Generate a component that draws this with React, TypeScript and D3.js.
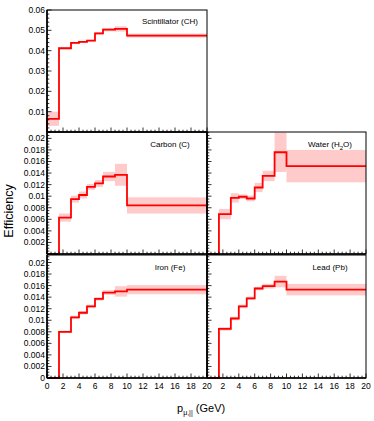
import React, { useEffect, useRef } from 'react';
import * as d3 from 'd3';

// bin edges in p (GeV)
const binEdges = [0, 1.5, 3, 4, 5, 6, 7, 8.5, 10, 20];

const chValues = [0.0065, 0.0412, 0.0438, 0.0443, 0.0449, 0.0485, 0.0503, 0.0507, 0.0474];
const chErrors = [0.0035, 0.0005, 0.0005, 0.0005, 0.0005, 0.0007, 0.0008, 0.0013, 0.001];

const carbonValues = [0, 0.0063, 0.0095, 0.0102, 0.0116, 0.0122, 0.0134, 0.0137, 0.0084];
const carbonErrors = [0, 0.0007, 0.0006, 0.0006, 0.0005, 0.0006, 0.0008, 0.0019, 0.0014];

const waterValues = [0, 0.0069, 0.0097, 0.0099, 0.0096, 0.0115, 0.0135, 0.0176, 0.0152];
const waterErrors = [0, 0.0009, 0.0008, 0.0004, 0.0005, 0.0008, 0.0009, 0.0034, 0.0028];

const ironValues = [0, 0.008, 0.0105, 0.0113, 0.0124, 0.0137, 0.0148, 0.015, 0.0153];
const ironErrors = [0, 0.0002, 0.0003, 0.0003, 0.0003, 0.0003, 0.0004, 0.0009, 0.0008];

const leadValues = [0, 0.0085, 0.0103, 0.0124, 0.0138, 0.0155, 0.0159, 0.0167, 0.0153];
const leadErrors = [0, 0.0003, 0.0003, 0.0003, 0.0003, 0.0003, 0.0004, 0.001, 0.001];

const xTickLabels = [0, 2, 4, 6, 8, 10, 12, 14, 16, 18, 20];
const chTickLabels = [0.01, 0.02, 0.03, 0.04, 0.05, 0.06];
const smallTickLabels = [0.002, 0.004, 0.006, 0.008, 0.01, 0.012, 0.014, 0.016, 0.018, 0.02];

const FONT = 'Liberation Sans, Arial, Helvetica, sans-serif';
const RED = '#ff0000';
const BAND = '#ffcaca';

const panels = [
  { name: 'Scintillator (CH)', values: chValues, errors: chErrors, x0: 47, x1: 207, y0: 10, y1: 132, yMax: 0.06, minor: 0.002, yLabels: chTickLabels, xLabels: null, showZero: false },
  { name: 'Carbon (C)', values: carbonValues, errors: carbonErrors, x0: 47, x1: 207, y0: 132, y1: 254, yMax: 0.0211, minor: 0.0005, yLabels: smallTickLabels, xLabels: null, showZero: false },
  { name: 'Water (H2O)', values: waterValues, errors: waterErrors, x0: 207, x1: 366, y0: 132, y1: 254, yMax: 0.0211, minor: 0.0005, yLabels: null, xLabels: null, showZero: false },
  { name: 'Iron (Fe)', values: ironValues, errors: ironErrors, x0: 47, x1: 207, y0: 255, y1: 378, yMax: 0.0213, minor: 0.0005, yLabels: smallTickLabels, xLabels: xTickLabels, showZero: true },
  { name: 'Lead (Pb)', values: leadValues, errors: leadErrors, x0: 207, x1: 366, y0: 255, y1: 378, yMax: 0.0213, minor: 0.0005, yLabels: null, xLabels: xTickLabels.slice(1), showZero: false },
];

const fmt = (v: number) => String(+v.toFixed(3));

const App = () => {
  const svgRef = useRef<SVGSVGElement>(null);

  useEffect(() => {
    const svg = d3.select(svgRef.current);
    svg.selectAll('*').remove();

    panels.forEach(p => {
      const x = d3.scaleLinear().domain([0, 20]).range([p.x0, p.x1]);
      const y = d3.scaleLinear().domain([0, p.yMax]).range([p.y1, p.y0]);
      const g = svg.append('g');

      // error bands
      g.selectAll('rect.band')
        .data(p.values)
        .enter().append('rect')
        .attr('class', 'band')
        .attr('x', (d, i) => x(binEdges[i]))
        .attr('width', (d, i) => x(binEdges[i + 1]) - x(binEdges[i]))
        .attr('y', (d, i) => y(d + p.errors[i]))
        .attr('height', (d, i) => y(d - p.errors[i]) - y(d + p.errors[i]))
        .attr('fill', BAND);

      // step line
      const pts: [number, number][] = [[0, 0]];
      p.values.forEach((v, i) => {
        pts.push([binEdges[i], v]);
        pts.push([binEdges[i + 1], v]);
      });
      const line = d3.line<[number, number]>().x(d => x(d[0])).y(d => y(d[1]));
      g.append('path')
        .attr('d', line(pts))
        .attr('fill', 'none')
        .attr('stroke', RED)
        .attr('stroke-width', 1.8);

      // frame
      g.append('rect')
        .attr('x', p.x0).attr('y', p.y0)
        .attr('width', p.x1 - p.x0).attr('height', p.y1 - p.y0)
        .attr('fill', 'none').attr('stroke', '#000').attr('stroke-width', 1);

      // x ticks (inside, pointing up)
      const xMinor = d3.range(0, 20.01, 0.5);
      g.selectAll('line.xt')
        .data(xMinor)
        .enter().append('line')
        .attr('x1', d => x(d)).attr('x2', d => x(d))
        .attr('y1', p.y1).attr('y2', d => p.y1 - (d % 2 === 0 ? 4.5 : 2.3))
        .attr('stroke', '#000').attr('stroke-width', 0.8);

      // y ticks (inside, pointing right)
      const nMinor = Math.floor(p.yMax / p.minor + 1e-6);
      const yMinor = d3.range(0, nMinor + 1).map(k => k * p.minor);
      const major = p.minor === 0.002 ? 0.01 : 0.002;
      g.selectAll('line.yt')
        .data(yMinor)
        .enter().append('line')
        .attr('x1', p.x0).attr('x2', d => p.x0 + (Math.abs(d / major - Math.round(d / major)) < 1e-6 ? 4.5 : 2.3))
        .attr('y1', d => y(d)).attr('y2', d => y(d))
        .attr('stroke', '#000').attr('stroke-width', 0.8);

      // thick axes
      g.append('line')
        .attr('x1', p.x0).attr('x2', p.x1).attr('y1', p.y1).attr('y2', p.y1)
        .attr('stroke', '#000').attr('stroke-width', 1.6);
      g.append('line')
        .attr('x1', p.x0).attr('x2', p.x0).attr('y1', p.y0).attr('y2', p.y1)
        .attr('stroke', '#000').attr('stroke-width', 1.6);

      // y labels
      if (p.yLabels) {
        const labs = p.showZero ? [0, ...p.yLabels] : p.yLabels;
        g.selectAll('text.yl')
          .data(labs)
          .enter().append('text')
          .attr('x', p.x0 - 2)
          .attr('y', d => y(d) + 3)
          .attr('text-anchor', 'end')
          .attr('font-family', FONT)
          .attr('font-size', 8.5)
          .text(d => fmt(d));
      }

      // x labels
      if (p.xLabels) {
        g.selectAll('text.xl')
          .data(p.xLabels)
          .enter().append('text')
          .attr('x', d => x(d))
          .attr('y', p.y1 + 11)
          .attr('text-anchor', 'middle')
          .attr('font-family', FONT)
          .attr('font-size', 8.5)
          .text(d => d);
      }

      // panel label
      const t = g.append('text')
        .attr('x', p.x0 + 123)
        .attr('y', p.y0 + (p.y0 === 10 ? 14 : 15))
        .attr('text-anchor', 'middle')
        .attr('font-family', FONT)
        .attr('font-size', 8);
      if (p.name === 'Water (H2O)') {
        t.append('tspan').text('Water (H');
        t.append('tspan').attr('dy', 2.5).attr('font-size', 6).text('2');
        t.append('tspan').attr('dy', -2.5).text('O)');
      } else {
        t.text(p.name);
      }
    });

    // axis titles
    svg.append('text')
      .attr('transform', 'translate(13,211) rotate(-90)')
      .attr('text-anchor', 'middle')
      .attr('font-family', FONT)
      .attr('font-size', 12.5)
      .text('Efficiency');

    const xt = svg.append('text')
      .attr('x', 177)
      .attr('y', 412)
      .attr('font-family', FONT)
      .attr('font-size', 11);
    xt.append('tspan').text('p');
    xt.append('tspan').attr('dy', 3).attr('font-size', 7).text('μ,||');
    xt.append('tspan').attr('dy', -3).text(' (GeV)');
  }, []);

  return (
    <svg ref={svgRef} width={374} height={421}
      style={{ position: 'absolute', left: 0, top: 0, background: '#fff' }} />
  );
};

export default App;
